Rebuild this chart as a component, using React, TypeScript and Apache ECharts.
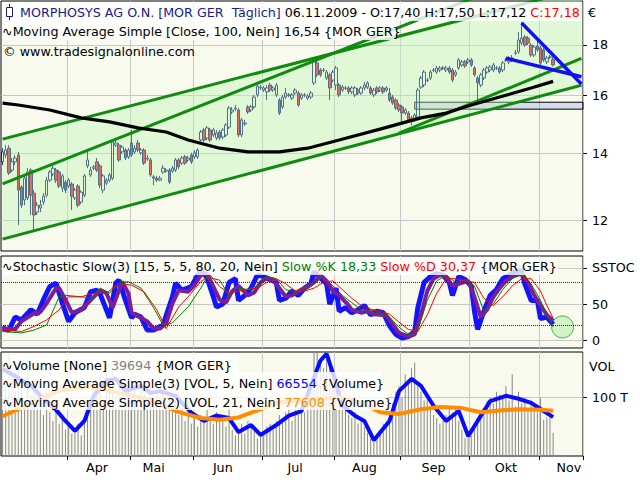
import React, { useEffect, useRef } from 'react';
import * as echarts from 'echarts';

// ---------- calendar ----------
const FIRST_SESSION = '2009-03-03';
const SESSION_COUNT = 185; // 176 traded sessions + future sessions to the right edge
const HOLIDAYS = ['2009-04-10', '2009-04-13', '2009-05-01'];
const MONTH_NAMES = ['Jan', 'Feb', 'Mär', 'Apr', 'Mai', 'Jun', 'Jul', 'Aug', 'Sep', 'Okt', 'Nov', 'Dez'];
const MONTH_LABEL_DAYS = ['2009-04-16', '2009-05-13', '2009-06-12', '2009-07-15', '2009-08-14', '2009-09-15', '2009-10-16', '2009-11-13'];

function buildSessions(): string[] {
  const out: string[] = [];
  const [y, m, d] = FIRST_SESSION.split('-').map(Number);
  const day = new Date(Date.UTC(y, m - 1, d));
  while (out.length < SESSION_COUNT) {
    const wd = day.getUTCDay();
    const s = day.toISOString().slice(0, 10);
    if (wd !== 0 && wd !== 6 && !HOLIDAYS.includes(s)) out.push(s);
    day.setUTCDate(day.getUTCDate() + 1);
  }
  return out;
}
const DATES = buildSessions();

// ---------- prices (EUR) ----------
const OPEN = [
  13.73, 13.95, 14.17, 13.47, 13.73, 13.95, 12.95, 12.57, 12.63, 13.47,
  12.77, 12.22, 12.34, 12.51, 12.71, 13.16, 13.35, 13.47, 13.41, 12.92,
  13.10, 12.98, 13.04, 12.63, 12.98, 12.51, 12.71, 13.60, 13.32, 13.53,
  13.73, 13.60, 12.86, 13.07, 13.16, 13.22, 14.27, 14.27, 14.05, 14.11,
  13.89, 14.34, 14.05, 14.34, 14.02, 14.11, 13.82, 13.79, 13.26, 13.22,
  13.16, 13.41, 13.44, 13.47, 13.44, 13.47, 13.79, 13.69, 13.89, 13.79,
  13.95, 13.89, 13.89, 14.44, 14.78, 14.51, 14.78, 14.61, 14.51, 14.71,
  14.54, 14.61, 14.88, 15.41, 15.52, 15.48, 14.61, 14.99, 15.59, 15.48,
  15.59, 16.03, 16.29, 16.21, 16.14, 16.40, 16.21, 16.03, 15.84, 15.59,
  15.95, 16.03, 15.91, 16.10, 16.10, 15.91, 16.03, 15.91, 15.95, 16.48,
  17.26, 16.98, 16.98, 16.67, 16.79, 16.59, 16.40, 16.40, 16.21, 16.29,
  16.29, 16.14, 16.03, 16.21, 16.10, 16.29, 16.32, 16.29, 16.03, 16.29,
  16.21, 16.29, 16.21, 16.10, 15.95, 15.84, 15.66, 15.59, 15.37, 15.37,
  15.20, 15.13, 15.23, 16.32, 16.40, 16.59, 16.67, 16.98, 16.90, 16.98,
  17.06, 16.98, 17.06, 16.98, 16.79, 17.06, 17.18, 17.30, 17.30, 17.38,
  17.06, 16.67, 16.40, 16.67, 16.90, 16.98, 16.98, 17.06, 17.06, 16.98,
  17.38, 17.30, 17.38, 17.66, 17.71, 18.07, 18.33, 18.28, 17.99, 17.58,
  17.95, 17.87, 17.79, 17.30, 17.50, 17.40,
];
const CLOSE = [
  14.05, 14.11, 13.38, 13.73, 13.85, 12.86, 12.42, 13.22, 13.41, 12.71,
  12.14, 12.42, 12.42, 12.68, 13.16, 13.41, 13.53, 13.16, 12.98, 13.29,
  12.86, 13.16, 12.68, 12.86, 12.42, 12.80, 13.29, 13.79, 13.47, 13.57,
  13.47, 13.01, 13.29, 13.16, 13.32, 14.37, 14.34, 13.79, 14.21, 13.85,
  14.11, 13.95, 14.17, 14.11, 14.11, 13.69, 13.85, 13.32, 13.22, 13.16,
  13.22, 13.53, 13.47, 13.10, 13.53, 13.79, 13.57, 13.85, 13.69, 13.85,
  13.73, 14.02, 14.11, 14.71, 14.44, 14.85, 14.44, 14.78, 14.68, 14.51,
  14.78, 14.95, 15.55, 15.48, 15.55, 14.61, 15.13, 15.02, 15.41, 15.59,
  15.95, 16.36, 16.32, 16.29, 16.29, 16.21, 16.29, 16.40, 15.37, 15.95,
  16.10, 16.02, 16.03, 16.21, 15.66, 16.03, 16.02, 15.99, 16.10, 17.38,
  16.79, 16.79, 16.97, 16.90, 16.29, 16.90, 17.06, 16.03, 16.32, 16.28,
  16.14, 16.29, 16.29, 16.10, 16.29, 16.40, 16.48, 16.10, 16.21, 16.14,
  16.29, 16.14, 16.29, 15.84, 15.73, 15.55, 15.48, 15.37, 15.48, 15.13,
  15.19, 15.30, 16.21, 16.67, 16.90, 16.58, 16.90, 16.97, 17.06, 17.06,
  17.05, 17.06, 16.90, 16.59, 16.90, 17.38, 17.30, 17.14, 17.38, 17.18,
  16.79, 16.48, 16.79, 16.98, 17.06, 17.10, 17.18, 17.05, 16.90, 17.26,
  17.37, 17.46, 17.46, 17.65, 18.20, 18.28, 17.99, 18.07, 17.58, 17.91,
  17.79, 17.26, 17.38, 17.46, 17.49, 17.18,
];
const LOW = [
  13.63, 13.85, 13.32, 13.41, 13.63, 11.86, 12.34, 12.42, 12.57, 12.14,
  11.73, 12.14, 12.22, 12.42, 12.65, 13.10, 13.29, 13.07, 12.92, 12.80,
  12.77, 12.92, 12.28, 12.57, 12.36, 12.45, 12.65, 13.53, 13.26, 13.47,
  13.41, 12.92, 12.77, 13.01, 13.10, 13.16, 14.21, 13.73, 13.98, 13.79,
  13.82, 13.89, 13.98, 14.05, 13.95, 13.63, 13.76, 13.26, 13.01, 13.10,
  13.13, 13.35, 13.38, 13.04, 13.38, 13.41, 13.50, 13.63, 13.63, 13.73,
  13.66, 13.82, 13.82, 14.37, 14.37, 14.44, 14.37, 14.54, 14.44, 14.44,
  14.47, 14.54, 14.81, 15.34, 15.44, 14.54, 14.54, 14.92, 15.34, 15.41,
  15.52, 15.95, 16.21, 16.14, 15.84, 16.14, 16.14, 15.95, 15.30, 15.52,
  15.88, 15.95, 15.84, 16.03, 15.59, 15.84, 15.95, 15.84, 15.88, 16.40,
  16.71, 16.71, 16.90, 16.59, 15.84, 16.51, 16.21, 15.95, 16.14, 16.21,
  16.06, 16.06, 15.95, 16.03, 16.03, 16.21, 16.25, 16.03, 15.95, 16.06,
  16.14, 16.06, 16.14, 15.77, 15.66, 15.48, 15.41, 15.06, 15.30, 15.06,
  14.95, 15.06, 15.16, 16.25, 16.32, 16.51, 16.59, 16.90, 16.83, 16.90,
  16.98, 16.90, 16.83, 16.51, 16.71, 16.98, 17.10, 17.06, 17.22, 17.10,
  16.71, 15.84, 16.32, 16.59, 16.83, 16.90, 16.90, 16.98, 16.83, 16.90,
  17.30, 17.22, 17.30, 17.58, 17.62, 17.99, 17.91, 17.99, 17.50, 17.50,
  17.71, 17.18, 17.30, 17.22, 17.42, 17.12,
];
const HIGH = [
  14.17, 14.27, 14.27, 13.85, 13.95, 14.05, 13.01, 13.32, 13.53, 13.53,
  12.86, 12.51, 12.57, 12.77, 13.26, 13.47, 13.63, 13.53, 13.47, 13.35,
  13.16, 13.22, 13.10, 12.92, 13.04, 12.86, 13.35, 14.11, 13.57, 13.63,
  13.85, 13.66, 13.35, 13.22, 13.38, 14.41, 14.44, 14.34, 14.27, 14.17,
  14.17, 14.78, 14.27, 14.44, 14.17, 14.17, 13.95, 13.85, 13.32, 13.29,
  13.29, 13.63, 13.53, 13.53, 13.60, 13.85, 13.85, 13.92, 13.95, 13.92,
  14.02, 14.11, 14.17, 14.78, 14.85, 14.92, 14.85, 14.85, 14.78, 14.78,
  14.85, 15.02, 15.62, 15.59, 15.66, 15.55, 15.20, 15.13, 15.66, 15.66,
  16.03, 16.44, 16.40, 16.36, 16.40, 16.48, 16.36, 16.48, 15.91, 16.03,
  16.29, 16.10, 16.10, 16.29, 16.17, 16.10, 16.10, 16.06, 16.17, 17.46,
  17.34, 17.06, 17.06, 16.98, 16.87, 16.98, 17.14, 16.48, 16.40, 16.36,
  16.36, 16.36, 16.36, 16.29, 16.36, 16.51, 16.55, 16.36, 16.29, 16.36,
  16.36, 16.36, 16.36, 16.29, 16.03, 15.91, 15.73, 15.66, 15.55, 15.44,
  15.27, 15.37, 16.29, 16.75, 16.98, 16.67, 16.98, 17.06, 17.14, 17.14,
  17.14, 17.14, 17.14, 17.06, 16.98, 17.46, 17.38, 17.38, 17.46, 17.46,
  17.14, 16.75, 16.87, 17.06, 17.14, 17.18, 17.26, 17.14, 17.14, 17.34,
  17.46, 17.54, 17.58, 17.79, 18.54, 18.97, 18.41, 18.37, 18.07, 17.99,
  18.20, 17.95, 17.87, 17.54, 17.58, 17.50,
];

// 100-day simple moving average, read at [session index, value]
const SMA100 = [
  [0, 15.73], [5, 15.66], [15, 15.48], [25, 15.2], [34, 15.06], [43, 14.85], [52, 14.71],
  [59, 14.44], [69, 14.17], [78, 14.05], [88, 14.05], [97, 14.17], [107, 14.44], [120, 14.81],
  [133, 15.2], [141, 15.37], [149, 15.66], [158, 15.95], [168, 16.29], [175, 16.54],
];

// trend lines [session index, price]
const CHANNEL_LOW = [[0, 11.48], [184, 16.39]];
const CHANNEL_HIGH = [[0, 14.47], [184, 20.49]];
const TREND_STEEP = [[0, 13.05], [184, 22.14]];
const TREND_LATE = [[126, 14.67], [184, 17.44]];
const WEDGE_TOP = [[165, 18.93], [184, 16.44]];
const WEDGE_BOTTOM = [[160, 17.45], [184, 16.72]];
const ZONE_START = '2009-09-07';
const ZONE_TOP = 15.76;
const ZONE_BOTTOM = 15.51;

// ---------- stochastic ----------
const STOCH_FAST = [
  [0, 16], [2, 14], [4, 32], [6, 28], [9, 42], [11, 36], [13, 56], [15, 74], [17, 79], [19, 51], [21, 26], [23, 38],
  [26, 45], [28, 67], [30, 69], [31, 64], [33, 42], [34, 31], [36, 79], [37, 83], [39, 56], [41, 31], [42, 36], [44, 32],
  [46, 14], [48, 14], [51, 21], [54, 60], [55, 79], [57, 69], [60, 74], [62, 90], [63, 97], [65, 86], [67, 60], [68, 46],
  [70, 50], [72, 80], [74, 85], [75, 55], [77, 62], [79, 72], [81, 90], [83, 88], [85, 84], [87, 80], [88, 55], [90, 58],
  [92, 68], [94, 62], [96, 72], [98, 78], [99, 95], [101, 86], [103, 78], [104, 50], [106, 72], [107, 40], [109, 45],
  [111, 38], [113, 42], [115, 48], [117, 35], [119, 40], [121, 38], [123, 20], [125, 8], [127, 3], [129, 5], [131, 12],
  [132, 45], [134, 80], [136, 88], [138, 92], [140, 90], [142, 80], [143, 62], [145, 88], [147, 84], [149, 75], [150, 40],
  [151, 15], [153, 40], [155, 62], [157, 70], [159, 85], [161, 90], [163, 95], [165, 96], [166, 78], [168, 55], [170, 55],
  [171, 30], [173, 32], [175, 22],
];
const STOCH_SMOOTH = [
  [0, 19], [1, 16], [4, 15], [6, 26], [10, 37], [12, 39], [14, 51], [17, 72], [18, 72], [20, 56], [22, 38], [25, 42],
  [27, 51], [29, 60], [31, 69], [33, 65], [35, 45], [37, 69], [38, 81], [40, 65], [41, 38], [44, 31], [46, 26], [48, 16],
  [50, 16], [52, 23], [54, 51], [56, 69], [59, 67], [61, 76], [63, 90], [65, 92], [67, 74], [69, 56], [71, 52], [73, 68],
  [75, 75], [78, 62], [80, 66], [82, 80], [84, 86], [86, 84], [88, 72], [90, 60], [92, 62], [95, 70], [97, 74], [99, 80],
  [101, 90], [103, 82], [105, 68], [107, 62], [110, 48], [111, 42], [114, 38], [116, 40], [118, 36], [120, 35], [122, 34],
  [124, 22], [126, 10], [129, 5], [131, 8], [133, 35], [135, 68], [137, 85], [139, 90], [141, 88], [143, 75], [145, 78],
  [148, 82], [150, 60], [152, 32], [154, 42], [156, 60], [158, 72], [160, 82], [162, 88], [165, 92], [167, 80], [169, 62],
  [171, 48], [173, 35], [175, 27],
];
const SLOW_K = [
  [0, 12], [6, 10], [10, 14], [14, 21], [18, 60], [20, 62], [25, 60], [29, 58], [31, 72], [34, 65], [37, 79], [40, 81],
  [44, 72], [48, 45], [51, 21], [54, 24], [59, 46], [63, 72], [65, 87], [69, 83], [72, 62], [75, 72], [78, 70], [81, 75],
  [84, 88], [87, 85], [90, 70], [93, 66], [96, 70], [99, 78], [102, 88], [105, 75], [108, 62], [111, 52], [114, 42],
  [117, 42], [120, 38], [123, 32], [126, 18], [129, 8], [132, 15], [135, 55], [138, 82], [141, 90], [144, 80], [147, 84],
  [150, 75], [153, 40], [156, 50], [159, 70], [162, 85], [165, 92], [168, 78], [171, 55], [173, 35], [175, 18.33],
];
const SLOW_D = [
  [0, 14], [6, 12], [10, 19], [14, 28], [18, 42], [21, 60], [25, 60], [29, 65], [33, 65], [37, 79], [41, 76], [45, 67],
  [49, 42], [52, 16], [56, 46], [59, 60], [63, 81], [66, 90], [69, 74], [72, 65], [75, 68], [78, 70], [81, 72], [84, 80],
  [87, 85], [90, 78], [93, 68], [96, 68], [99, 72], [102, 80], [105, 82], [108, 70], [111, 58], [114, 48], [117, 43],
  [120, 40], [123, 36], [126, 25], [129, 15], [132, 12], [135, 35], [138, 65], [141, 85], [144, 85], [147, 82], [150, 80],
  [153, 58], [156, 48], [159, 60], [162, 75], [165, 85], [168, 85], [171, 68], [173, 48], [175, 30.37],
];
const STOCH_SIGNAL = [[178, 18.33]];
const STOCH_UPPER = 80;
const STOCH_LOWER = 20;

// ---------- volume (thousand shares) ----------
const VOLUME_K = [
  160, 120, 185, 140, 110, 150, 125, 95, 140, 105,
  120, 85, 95, 70, 110, 75, 60, 90, 55, 70,
  45, 50, 38, 42, 55, 35, 60, 75, 90, 130,
  115, 140, 95, 160, 125, 145, 100, 120, 90, 110,
  130, 105, 125, 95, 135, 110, 100, 120, 90, 115,
  100, 120, 95, 110, 85, 95, 70, 80, 60, 75,
  55, 65, 50, 70, 60, 80, 65, 55, 75, 60,
  70, 50, 80, 45, 35, 40, 55, 38, 60, 50,
  45, 30, 40, 35, 50, 55, 45, 60, 70, 65,
  75, 80, 60, 85, 70, 90, 75, 95, 110, 180,
  190, 165, 150, 200, 170, 130, 140, 100, 80, 90,
  70, 65, 75, 55, 60, 50, 40, 30, 25, 35,
  40, 55, 60, 75, 90, 110, 120, 100, 140, 125,
  150, 160, 120, 110, 95, 100, 80, 70, 65, 55,
  60, 70, 85, 75, 80, 60, 45, 30, 40, 35,
  50, 65, 70, 80, 95, 100, 90, 110, 105, 100,
  120, 95, 140, 85, 110, 90, 100, 80, 95, 85,
  75, 99, 62, 66, 66, 39.694,
];
const VOL_MA5 = [
  [0, 149], [4, 137], [9, 120], [13, 98], [17, 79], [20, 60], [23, 43], [26, 60], [29, 103], [33, 129], [36, 132],
  [39, 111], [44, 120], [47, 108], [50, 111], [55, 103], [60, 74], [64, 60], [68, 69], [72, 65], [75, 41], [79, 53],
  [82, 36], [87, 53], [91, 69], [95, 77], [98, 120], [101, 163], [103, 175], [105, 142], [108, 86], [112, 69], [115, 60],
  [118, 27], [123, 60], [126, 111], [130, 132], [133, 120], [137, 86], [141, 60], [145, 77], [148, 34], [151, 60],
  [155, 94], [160, 103], [164, 98], [168, 91], [172, 77], [175, 66.554],
];
const VOL_MA21 = [
  [0, 68], [9, 90], [18, 112], [28, 118], [37, 108], [47, 96], [56, 75], [63, 65], [69, 62], [75, 66], [82, 80],
  [88, 92], [95, 96], [101, 98], [107, 100], [114, 92], [120, 75], [126, 72], [133, 80], [139, 84], [146, 82],
  [152, 75], [158, 78], [164, 80], [171, 79], [175, 77.608],
];

// ---------- styling ----------
const FONT = '"DejaVu Sans", sans-serif';
const FS = 12.7;
const PANEL_BG = '#F7FAEC';
const GRID_LINE = '#C8C8C8';
const NAVY = '#1a1a8a';
const GREEN_LINE = '#108a10';

function isMonthStart(idx: number) {
  return idx > 0 && DATES[idx].slice(5, 7) !== DATES[idx - 1].slice(5, 7);
}

function xAxisFor(gridIndex: number, withLabels: boolean) {
  return {
    type: 'category',
    gridIndex,
    data: DATES,
    boundaryGap: true,
    axisLine: { show: false },
    axisTick: {
      show: withLabels,
      interval: (i: number) => isMonthStart(i),
      length: 4,
      lineStyle: { color: '#000' },
    },
    axisLabel: {
      show: withLabels,
      interval: (_i: number, v: string) => MONTH_LABEL_DAYS.includes(v),
      formatter: (v: string) => MONTH_NAMES[Number(v.slice(5, 7)) - 1],
      color: '#000',
      fontFamily: FONT,
      fontSize: FS,
      margin: 5,
    },
    splitLine: {
      show: true,
      interval: (i: number) => isMonthStart(i),
      lineStyle: { color: GRID_LINE, width: 1 },
    },
  };
}

function yLabel(values: number[], formatter?: (v: number) => string) {
  return {
    axisTick: { show: true, length: 4, customValues: values, lineStyle: { color: '#000' } },
    axisLabel: {
      customValues: values,
      color: '#000',
      fontFamily: FONT,
      fontSize: FS,
      margin: 9,
      formatter,
    },
    splitLine: { show: true, lineStyle: { color: GRID_LINE, width: 1 } },
    axisLine: { show: false },
  };
}

function headerText(x: number, y: number, text: string, rich?: Record<string, unknown>) {
  return {
    type: 'text',
    x,
    y,
    z: 101,
    silent: true,
    style: {
      text,
      fill: '#000',
      font: `${FS}px ${FONT}`,
      fontFamily: FONT,
      fontSize: FS,
      verticalAlign: 'middle',
      rich,
    },
  };
}
function overlay(x: number, y: number, w: number, h: number) {
  return {
    type: 'rect',
    z: 100,
    silent: true,
    shape: { x, y, width: w, height: h },
    style: { fill: 'rgba(255,255,255,0.8)' },
  };
}
const tok = (fill: string) => ({ fill, fontFamily: FONT, fontSize: FS });

export default function App() {
  const ref = useRef<HTMLDivElement>(null);

  useEffect(() => {
    if (!ref.current) return;
    const chart = echarts.init(ref.current, null, { renderer: 'svg' });

    const candleData = OPEN.map((o, i) => [o, CLOSE[i], LOW[i], HIGH[i]]);
    const channelFill = CHANNEL_HIGH.map((p, i) => [p[0], p[1] - CHANNEL_LOW[i][1]]);
    const lineSeries = (data: number[][], color: string, width: number, xi = 0, extra: object = {}) => ({
      type: 'line',
      xAxisIndex: xi,
      yAxisIndex: xi,
      data,
      showSymbol: false,
      symbol: 'none',
      silent: true,
      lineStyle: { color, width },
      ...extra,
    });

    const option = {
      animation: false,
      backgroundColor: '#ffffff',
      grid: [
        { left: 1, right: 57, top: 1, height: 250, show: true, backgroundColor: PANEL_BG, borderColor: '#000', borderWidth: 1 },
        { left: 1, right: 57, top: 256, height: 92, show: true, backgroundColor: PANEL_BG, borderColor: '#000', borderWidth: 1 },
        { left: 1, right: 57, top: 352, height: 104, show: true, backgroundColor: PANEL_BG, borderColor: '#000', borderWidth: 1 },
      ],
      xAxis: [xAxisFor(0, false), xAxisFor(1, false), xAxisFor(2, true)],
      yAxis: [
        { type: 'log', gridIndex: 0, position: 'right', min: 11.17, max: 19.92, ...yLabel([12, 14, 16, 18]) },
        {
          type: 'value', gridIndex: 1, position: 'right', min: -10.8, max: 116.4,
          ...yLabel([0, 50, 100], (v: number) => (v === 100 ? 'SSTOC' : String(v))),
        },
        {
          type: 'value', gridIndex: 2, position: 'right', min: 0, max: 178,
          ...yLabel([100], (v: number) => `${v} T`),
        },
      ],
      series: [
        // trend channel fill
        lineSeries(CHANNEL_LOW, 'transparent', 0, 0, { stack: 'channel', lineStyle: { opacity: 0 } }),
        lineSeries(channelFill, 'transparent', 0, 0, {
          stack: 'channel',
          lineStyle: { opacity: 0 },
          areaStyle: { color: 'rgba(190,244,182,0.55)' },
        }),
        lineSeries(CHANNEL_LOW, GREEN_LINE, 3),
        lineSeries(CHANNEL_HIGH, GREEN_LINE, 3),
        lineSeries(TREND_STEEP, GREEN_LINE, 3),
        lineSeries(TREND_LATE, GREEN_LINE, 3),
        lineSeries(SMA100, '#000000', 3.2),
        {
          type: 'candlestick',
          xAxisIndex: 0,
          yAxisIndex: 0,
          data: candleData,
          barWidth: 3,
          silent: true,
          itemStyle: {
            color: 'rgba(255,255,255,0)',
            color0: '#ee1c1c',
            borderColor: '#0e1c6e',
            borderColor0: '#0e1c6e',
            borderWidth: 1,
          },
          markArea: {
            silent: true,
            itemStyle: { color: 'rgba(140,155,230,0.3)', borderColor: '#000', borderWidth: 1 },
            data: [[{ xAxis: ZONE_START, yAxis: ZONE_TOP }, { yAxis: ZONE_BOTTOM }]],
          },
        },
        lineSeries(WEDGE_TOP, '#1010f0', 3.5),
        lineSeries(WEDGE_BOTTOM, '#1010f0', 3.5),

        // stochastic
        lineSeries(STOCH_FAST, '#1414ff', 5, 1),
        lineSeries(STOCH_SMOOTH, '#7a1e9a', 4, 1, {
          markLine: {
            silent: true,
            symbol: 'none',
            label: { show: false },
            lineStyle: { color: '#1c1ca0', type: 'dotted', width: 1 },
            data: [{ yAxis: STOCH_UPPER }, { yAxis: STOCH_LOWER }],
          },
        }),
        lineSeries(SLOW_K, '#008000', 1, 1),
        lineSeries(SLOW_D, '#ff0000', 1, 1),
        {
          type: 'scatter',
          xAxisIndex: 1,
          yAxisIndex: 1,
          data: STOCH_SIGNAL,
          symbolSize: 22,
          silent: true,
          itemStyle: { color: '#c8f0bf', borderColor: '#2e9e2e', borderWidth: 1 },
        },

        // volume
        {
          type: 'bar',
          xAxisIndex: 2,
          yAxisIndex: 2,
          data: VOLUME_K,
          barWidth: 1,
          silent: true,
          itemStyle: { color: '#8a8a8a' },
        },
        lineSeries(VOL_MA5, '#0a0aff', 4, 2),
        lineSeries(VOL_MA21, '#ff8c00', 4, 2),
      ],
      graphic: [
        overlay(2, 2, 578, 19),
        overlay(2, 21, 394, 19),
        { type: 'line', z: 101, silent: true, shape: { x1: 9.5, y1: 4, x2: 9.5, y2: 20 }, style: { stroke: NAVY, lineWidth: 1 } },
        { type: 'rect', z: 102, silent: true, shape: { x: 6.5, y: 7.5, width: 6, height: 9 }, style: { fill: '#fff', stroke: NAVY, lineWidth: 1 } },
        headerText(20, 12, '{n|MORPHOSYS AG O.N. [MOR GER  Täglich]} {k|06.11.2009 - O:17,40 H:17,50 L:17,12} {r|C:17,18}', {
          n: tok(NAVY), k: tok('#000'), r: tok('#ff0000'),
        }),
        headerText(2, 31, '∿Moving Average Simple [Close, 100, Nein] 16,54 {MOR GER}'),
        headerText(3, 51, '© www.tradesignalonline.com'),
        { type: 'text', x: 588, y: 12, z: 101, silent: true, style: { text: '€', fill: '#000', font: `${FS}px ${FONT}`, verticalAlign: 'middle' } },

        overlay(2, 257, 556, 18),
        headerText(2, 266, '∿Stochastic Slow(3) [15, 5, 5, 80, 20, Nein] {g|Slow %K 18,33} {r|Slow %D 30,37} {MOR GER}', {
          g: tok('#008000'), r: tok('#ff0000'),
        }),

        overlay(2, 353, 236, 19),
        overlay(2, 372, 380, 19),
        overlay(2, 391, 386, 19),
        headerText(2, 365, '∿Volume [None] {g|39694} {MOR GER}', { g: tok('#808080') }),
        headerText(2, 383, '∿Moving Average Simple(3) [VOL, 5, Nein] {b|66554} {Volume}', { b: tok('#0000ff') }),
        headerText(2, 402, '∿Moving Average Simple(2) [VOL, 21, Nein] {o|77608} {Volume}', { o: tok('#ff8c00') }),
        { type: 'text', x: 589, y: 366, z: 101, silent: true, style: { text: 'VOL', fill: '#000', font: `${FS}px ${FONT}`, verticalAlign: 'middle' } },
      ],
    };

    chart.setOption(option as any);
    return () => chart.dispose();
  }, []);

  return (
    <div
      ref={ref}
      style={{ position: 'fixed', left: 0, top: 0, width: 640, height: 480, background: '#ffffff' }}
    />
  );
}
